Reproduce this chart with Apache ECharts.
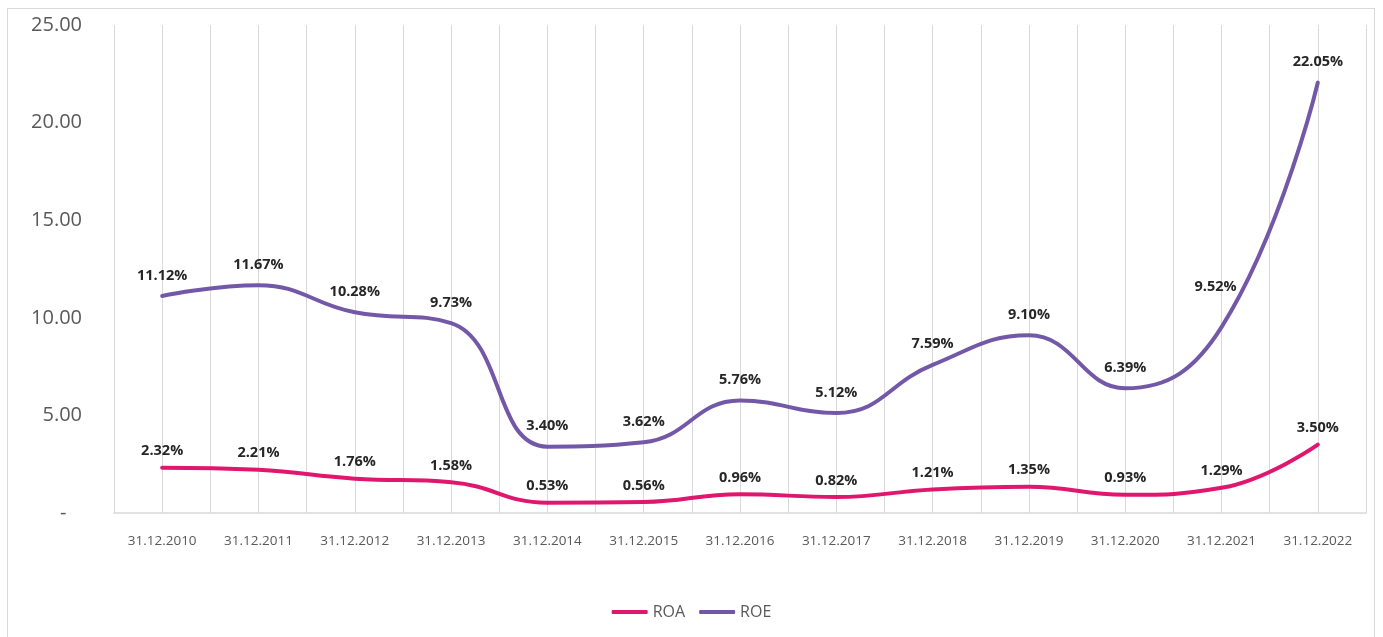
<!DOCTYPE html>
<html>
<head>
<meta charset="utf-8">
<script src="https://cdn.jsdelivr.net/npm/echarts@6/dist/echarts.min.js"></script>
<style>
  html, body { margin: 0; padding: 0; background: #fff; }
  #frame { position: absolute; left: 7px; top: 8px; width: 1368px; height: 640px; border: 1px solid #d9d9d9; box-sizing: border-box; }
  #chart { position: absolute; left: 0; top: 0; width: 1383px; height: 637px; }
</style>
</head>
<body>
<div id="frame"></div>
<div id="chart"></div>
<script>
const categories = ["31.12.2010", "31.12.2011", "31.12.2012", "31.12.2013", "31.12.2014", "31.12.2015",
  "31.12.2016", "31.12.2017", "31.12.2018", "31.12.2019", "31.12.2020", "31.12.2021", "31.12.2022"];
const roa = [2.32, 2.21, 1.76, 1.58, 0.53, 0.56, 0.96, 0.82, 1.21, 1.35, 0.93, 1.29, 3.50];
const roe = [11.12, 11.67, 10.28, 9.73, 3.40, 3.62, 5.76, 5.12, 7.59, 9.10, 6.39, 9.52, 22.05];

const font = "'Open Sans', 'Noto Sans', sans-serif";
const chart = echarts.init(document.getElementById("chart"), null, { renderer: "canvas" });

// label nudges so steep segments don't cover the text
const labelShift = { ROE: { 11: [-6, -20] } };

const lineSeries = (name, data, color, dist) => ({
  name,
  type: "line",
  data: data.map((v, i) => {
    const off = labelShift[name] && labelShift[name][i];
    return off ? { value: v, label: { offset: off } } : v;
  }),
  smooth: 0.45,
  symbol: "circle",
  symbolSize: 0.1,
  showSymbol: true,
  lineStyle: { width: 4, color, cap: "round" },
  itemStyle: { color },
  label: {
    show: true,
    position: "top",
    distance: dist,
    formatter: (p) => Number(p.value).toFixed(2) + "%",
    color: "#262626",
    fontWeight: "bold",
    fontSize: 14.5,
    fontFamily: font,
  },
  z: 3,
});

chart.setOption({
  animation: false,
  grid: { left: 114, right: 17, top: 25, bottom: 124 },
  legend: {
    bottom: 12,
    left: "center",
    itemWidth: 36,
    itemHeight: 4,
    itemGap: 14,
    icon: "roundRect",
    textStyle: { color: "#595959", fontSize: 16, fontFamily: font },
    data: ["ROA", "ROE"],
  },
  xAxis: [
    {
      type: "category",
      data: categories,
      boundaryGap: true,
      axisLine: { lineStyle: { color: "#d9d9d9", width: 1.5 } },
      axisTick: { show: false },
      axisLabel: { color: "#595959", fontSize: 13.5, margin: 21, fontFamily: font },
      splitLine: { show: false },
    },
    {
      // major + minor vertical gridlines (every half category)
      type: "value",
      min: 0,
      max: categories.length * 2,
      interval: 1,
      position: "bottom",
      axisLine: { show: false },
      axisTick: { show: false },
      axisLabel: { show: false },
      splitLine: { show: true, lineStyle: { color: "#d9d9d9", width: 1 } },
    },
  ],
  yAxis: {
    type: "value",
    min: 0,
    max: 25,
    interval: 5,
    axisLine: { show: false },
    axisTick: { show: false },
    splitLine: { show: false },
    axisLabel: {
      color: "#595959",
      fontSize: 20,
      margin: 32,
      fontFamily: font,
      formatter: (v) => (v === 0 ? "-   " : v.toFixed(2)),
    },
  },
  series: [
    lineSeries("ROA", roa, "#e0176f", 9),
    lineSeries("ROE", roe, "#7458a8", 13),
  ],
});
</script>
</body>
</html>
